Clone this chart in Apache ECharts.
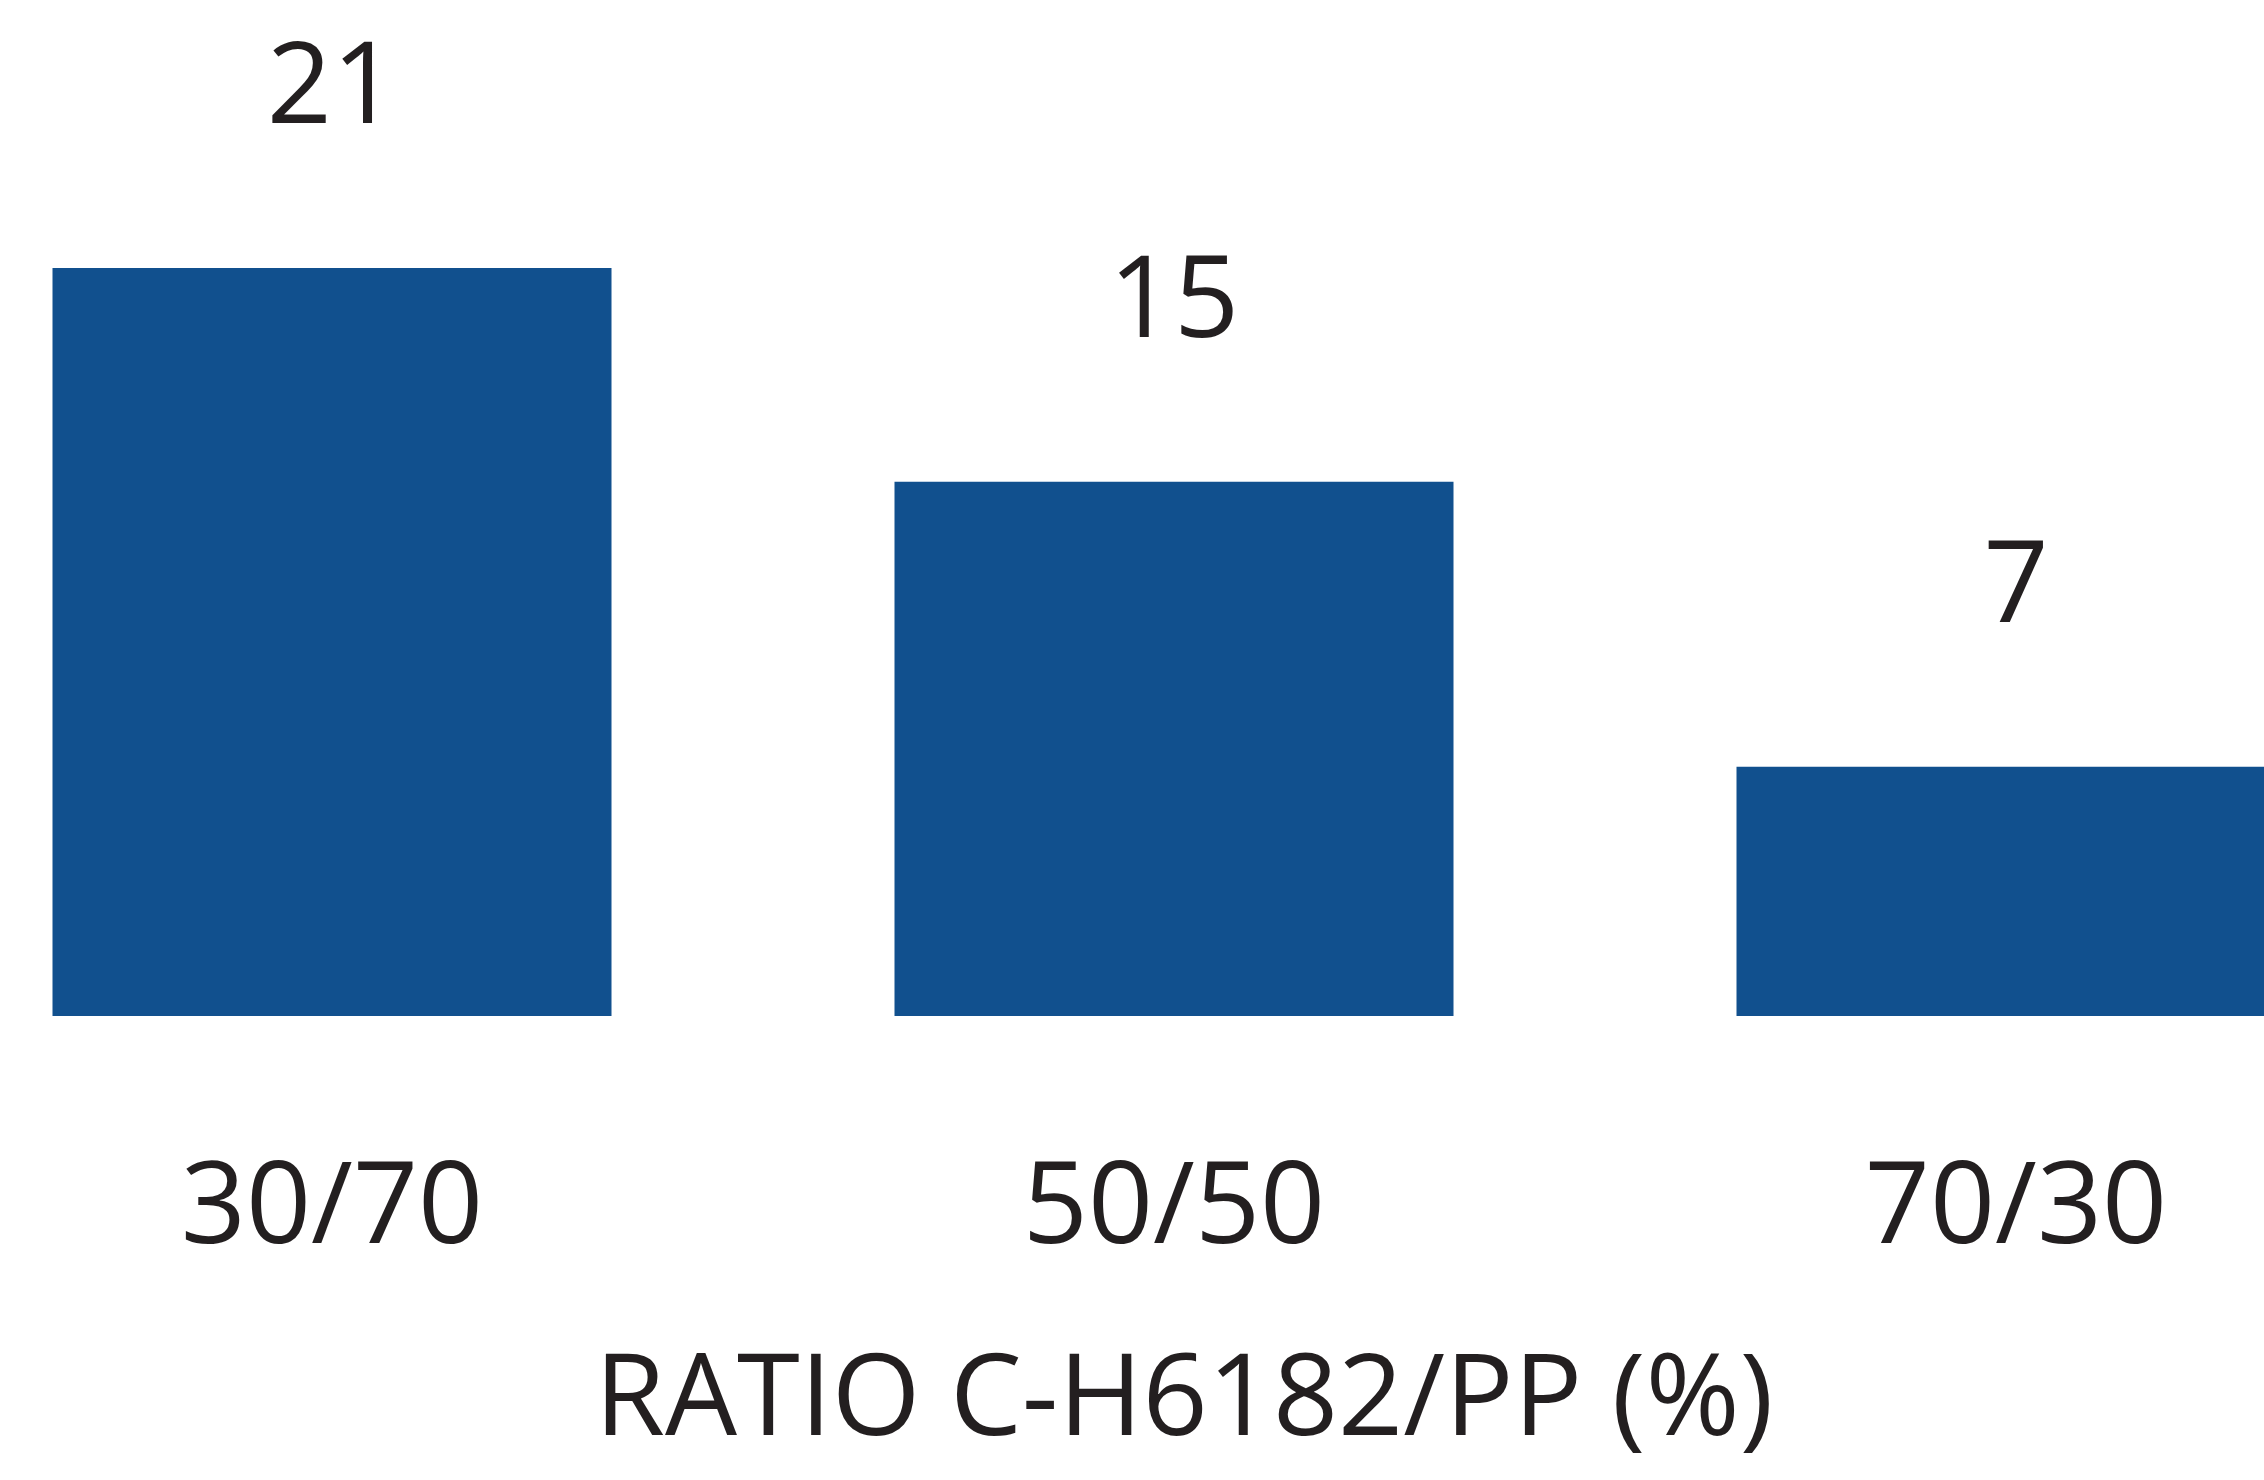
<!DOCTYPE html>
<html>
<head>
<meta charset="utf-8">
<script src="https://cdn.jsdelivr.net/npm/echarts@6/dist/echarts.min.js"></script>
<style>
  html, body { margin: 0; padding: 0; background: #ffffff; overflow: hidden; width: 2264px; height: 1480px; position: relative; }
  #chart { position: absolute; left: -89px; top: 0; width: 2526px; height: 1480px; }
</style>
</head>
<body>
<div id="chart"></div>
<script>
const categories = ['30/70', '50/50', '70/30'];
const values = [21, 15, 7];
const axisTitle = 'RATIO C-H6182/PP (%)';

const FONT = '"Open Sans", "Noto Sans", sans-serif';
const TEXT = '#231f20';
const BAR = '#11508e';

const chart = echarts.init(document.getElementById('chart'), null, { renderer: 'canvas' });
chart.setOption({
  backgroundColor: '#ffffff',
  animation: false,
  grid: { left: 0, right: 0, top: 268, bottom: 464, containLabel: false },
  xAxis: {
    type: 'category',
    data: categories,
    axisLine: { show: false },
    axisTick: { show: false },
    axisLabel: { margin: 138, fontSize: 114, fontFamily: FONT, color: TEXT, lineHeight: 114 },
    name: axisTitle,
    nameLocation: 'middle',
    nameGap: 330,
    nameTextStyle: { fontSize: 114, fontFamily: FONT, color: TEXT, lineHeight: 114, padding: [0, 0, 0, 20] }
  },
  yAxis: {
    type: 'value',
    min: 0,
    max: 21,
    show: false,
    splitLine: { show: false }
  },
  series: [{
    type: 'bar',
    data: values,
    barWidth: 559,
    itemStyle: { color: BAR },
    label: {
      show: true,
      position: 'top',
      distance: 120,
      fontSize: 114,
      lineHeight: 114,
      fontFamily: FONT,
      color: TEXT
    }
  }]
});
</script>
</body>
</html>
